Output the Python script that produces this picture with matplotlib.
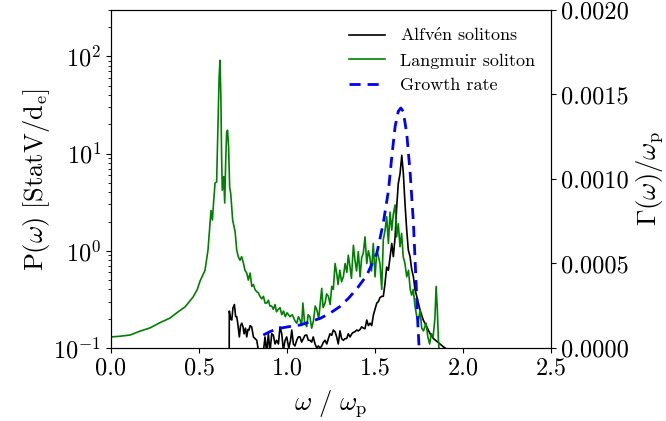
import matplotlib
matplotlib.use("Agg")
import matplotlib.pyplot as plt

plt.rcParams["font.family"] = "serif"
plt.rcParams["font.serif"] = ["cmr10"]
plt.rcParams["mathtext.fontset"] = "cm"
plt.rcParams["axes.unicode_minus"] = False
plt.rcParams["axes.formatter.use_mathtext"] = True

# Langmuir soliton spectrum (left axis)
lang_w = [0.000, 0.050, 0.108, 0.160, 0.222, 0.280, 0.335, 0.380, 0.420, 0.466,
          0.490, 0.506, 0.534, 0.551, 0.562, 0.568, 0.576, 0.583, 0.591, 0.600,
          0.608, 0.614, 0.619, 0.624, 0.628, 0.632, 0.640, 0.646, 0.652, 0.657,
          0.662, 0.668, 0.674, 0.680, 0.691, 0.705, 0.714, 0.723, 0.733, 0.742,
          0.752, 0.761, 0.771, 0.780, 0.790, 0.800, 0.809, 0.818, 0.827, 0.837,
          0.846, 0.856, 0.866, 0.875, 0.885, 0.894, 0.903, 0.913, 0.922, 0.932,
          0.940, 0.950, 0.960, 0.970, 0.980, 0.990, 1.000, 1.017, 1.030, 1.045,
          1.055, 1.065, 1.074, 1.083, 1.090, 1.100, 1.112, 1.120, 1.130, 1.140,
          1.150, 1.160, 1.170, 1.180, 1.190, 1.197, 1.205, 1.216, 1.225, 1.235,
          1.245, 1.254, 1.263, 1.273, 1.282, 1.290, 1.300, 1.310, 1.320, 1.330,
          1.340, 1.348, 1.358, 1.366, 1.377, 1.386, 1.395, 1.405, 1.415, 1.424,
          1.433, 1.443, 1.453, 1.462, 1.470, 1.480, 1.490, 1.500, 1.510, 1.518,
          1.528, 1.538, 1.547, 1.557, 1.566, 1.576, 1.585, 1.595, 1.604, 1.614,
          1.623, 1.632, 1.642, 1.651, 1.660, 1.670, 1.680, 1.690, 1.700, 1.708,
          1.717, 1.727, 1.737, 1.746, 1.756, 1.765, 1.775, 1.790, 1.800, 1.810,
          1.820, 1.830, 1.840, 1.847, 1.854, 1.860, 1.865, 1.880]
lang_p = [0.130, 0.132, 0.136, 0.148, 0.161, 0.183, 0.203, 0.235, 0.264, 0.334,
          0.400, 0.489, 0.630, 1.02, 1.90, 2.60, 2.07, 3.20, 4.96, 5.10,
          20.0, 60.0, 91.0, 40.0, 10.0, 4.20, 5.80, 3.10, 9.00, 16.7,
          17.4, 11.7, 4.50, 3.90, 2.07, 1.57, 1.02, 0.87, 0.80, 0.87,
          0.75, 0.63, 0.59, 0.50, 0.59, 0.43, 0.45, 0.40, 0.38, 0.37,
          0.34, 0.32, 0.34, 0.29, 0.29, 0.31, 0.27, 0.27, 0.25, 0.28,
          0.236, 0.25, 0.26, 0.22, 0.24, 0.21, 0.23, 0.21, 0.22, 0.19,
          0.18, 0.21, 0.194, 0.17, 0.29, 0.18, 0.166, 0.22, 0.21, 0.16,
          0.19, 0.27, 0.245, 0.20, 0.31, 0.41, 0.26, 0.29, 0.36, 0.34,
          0.28, 0.43, 0.40, 0.74, 0.59, 0.45, 0.63, 0.48, 0.54, 0.74,
          0.60, 0.90, 0.68, 0.52, 1.14, 0.80, 0.62, 0.98, 0.54, 0.85,
          0.94, 1.39, 0.74, 1.00, 0.87, 0.62, 1.19, 0.54, 1.00, 0.90,
          0.74, 0.40, 1.30, 1.63, 2.24, 1.19, 2.50, 1.63, 2.40, 2.96,
          1.39, 1.90, 1.10, 1.51, 0.87, 0.74, 0.54, 0.63, 0.40, 0.35,
          0.40, 0.27, 0.21, 0.19, 0.245, 0.16, 0.15, 0.18, 0.13, 0.11,
          0.14, 0.13, 0.20, 0.43, 0.245, 0.12, 0.09, 0.07]

# Alfven solitons spectrum (left axis)
alf_w = [0.671, 0.672, 0.679, 0.686, 0.693, 0.701, 0.708, 0.714, 0.720, 0.729,
         0.736, 0.743, 0.750, 0.756, 0.764, 0.771, 0.778, 0.784, 0.790, 0.799,
         0.809, 0.818, 0.828, 0.837, 0.850, 0.865, 0.875, 0.884, 0.894, 0.903,
         0.913, 0.922, 0.932, 0.941, 0.951, 0.960, 0.970, 0.979, 0.989, 0.998,
         1.010, 1.020, 1.027, 1.036, 1.045, 1.055, 1.064, 1.074, 1.083, 1.093,
         1.102, 1.112, 1.121, 1.131, 1.140, 1.149, 1.159, 1.169, 1.178, 1.188,
         1.197, 1.207, 1.216, 1.226, 1.235, 1.244, 1.254, 1.263, 1.273, 1.282,
         1.291, 1.301, 1.310, 1.320, 1.330, 1.339, 1.348, 1.358, 1.368, 1.377,
         1.386, 1.396, 1.405, 1.415, 1.424, 1.434, 1.443, 1.453, 1.462, 1.472,
         1.481, 1.491, 1.500, 1.510, 1.519, 1.528, 1.538, 1.547, 1.556, 1.566,
         1.576, 1.585, 1.595, 1.604, 1.614, 1.623, 1.632, 1.642, 1.652, 1.661,
         1.670, 1.680, 1.689, 1.699, 1.708, 1.718, 1.727, 1.737, 1.746, 1.756,
         1.774, 1.794, 1.813, 1.832, 1.851, 1.869, 1.888, 1.916, 1.930]
alf_p = [0.05, 0.24, 0.20, 0.194, 0.26, 0.28, 0.21, 0.21, 0.18, 0.13,
         0.17, 0.18, 0.165, 0.14, 0.16, 0.13, 0.155, 0.153, 0.17, 0.165,
         0.13, 0.125, 0.12, 0.095, 0.08, 0.09, 0.13, 0.09, 0.14, 0.09,
         0.14, 0.136, 0.11, 0.12, 0.11, 0.165, 0.14, 0.095, 0.12, 0.13,
         0.10, 0.12, 0.153, 0.11, 0.105, 0.12, 0.13, 0.13, 0.115, 0.125,
         0.135, 0.136, 0.12, 0.12, 0.115, 0.13, 0.11, 0.10, 0.105, 0.10,
         0.105, 0.115, 0.12, 0.11, 0.125, 0.14, 0.135, 0.153, 0.147, 0.13,
         0.11, 0.15, 0.125, 0.12, 0.125, 0.125, 0.14, 0.13, 0.14, 0.145,
         0.147, 0.153, 0.15, 0.155, 0.165, 0.16, 0.158, 0.194, 0.17, 0.18,
         0.17, 0.22, 0.25, 0.29, 0.30, 0.33, 0.34, 0.34, 0.45, 0.68,
         0.63, 0.85, 1.19, 0.87, 1.39, 2.83, 4.90, 6.20, 9.60, 6.20,
         3.10, 1.63, 1.02, 0.87, 0.65, 0.54, 0.40, 0.34, 0.29, 0.245,
         0.194, 0.165, 0.14, 0.125, 0.117, 0.11, 0.103, 0.095, 0.09]

# Growth rate (right axis)
gr_w = [0.865, 0.910, 0.960, 1.020, 1.074, 1.130, 1.190, 1.250, 1.300, 1.350,
        1.400, 1.453, 1.510, 1.547, 1.576, 1.595, 1.614, 1.632, 1.646, 1.660,
        1.680, 1.700, 1.718, 1.731, 1.743, 1.750]
gr_g = [0.000077, 0.000100, 0.000117, 0.000128, 0.000136, 0.000155, 0.000176,
        0.000210, 0.000245, 0.000295, 0.000355, 0.000430, 0.000560, 0.000740,
        0.000930, 0.001130, 0.001310, 0.001400, 0.001420, 0.001400, 0.001270,
        0.001030, 0.000740, 0.000440, 0.000146, 0.000008]

fig = plt.figure(figsize=(6.66, 4.21), dpi=100)
ax = fig.add_axes([0.1667, 0.1734, 0.6607, 0.8029])
ax2 = ax.twinx()

l1, = ax.plot(alf_w, alf_p, color="black", lw=1.2, label="Alfv$\\acute{\\mathrm{e}}$n solitons")
l2, = ax.plot(lang_w, lang_p, color="green", lw=1.2, label="Langmuir soliton")
l3, = ax2.plot(gr_w, gr_g, color="blue", lw=2, ls="--", dashes=(4, 2.5), label="Growth rate")

ax.set_yscale("log")
ax.set_xlim(0, 2.5)
ax.set_ylim(0.1, 300)
ax2.set_ylim(0, 0.002)
ax.set_xticks([0.0, 0.5, 1.0, 1.5, 2.0, 2.5])
ax2.set_yticks([0.0, 0.0005, 0.001, 0.0015, 0.002])
ax2.set_yticklabels(["0.0000", "0.0005", "0.0010", "0.0015", "0.0020"])
ax.set_xticklabels(["0.0", "0.5", "1.0", "1.5", "2.0", "2.5"])

ax.tick_params(labelsize=17.5)
ax2.tick_params(labelsize=17.5)

ax.set_xlabel(r"$\omega\ /\ \omega_\mathrm{p}$", fontsize=19, labelpad=6)
ax.set_ylabel(r"$\mathrm{P}(\omega)\ [\mathrm{Stat V/d_e}]$", fontsize=19, labelpad=1)
ax2.set_ylabel(r"$\Gamma(\omega)/\omega_\mathrm{p}$", fontsize=19)

ax2.legend(handles=[l1, l2, l3], loc="upper right", frameon=False, fontsize=13)

fig.savefig("out.png", dpi=100)
